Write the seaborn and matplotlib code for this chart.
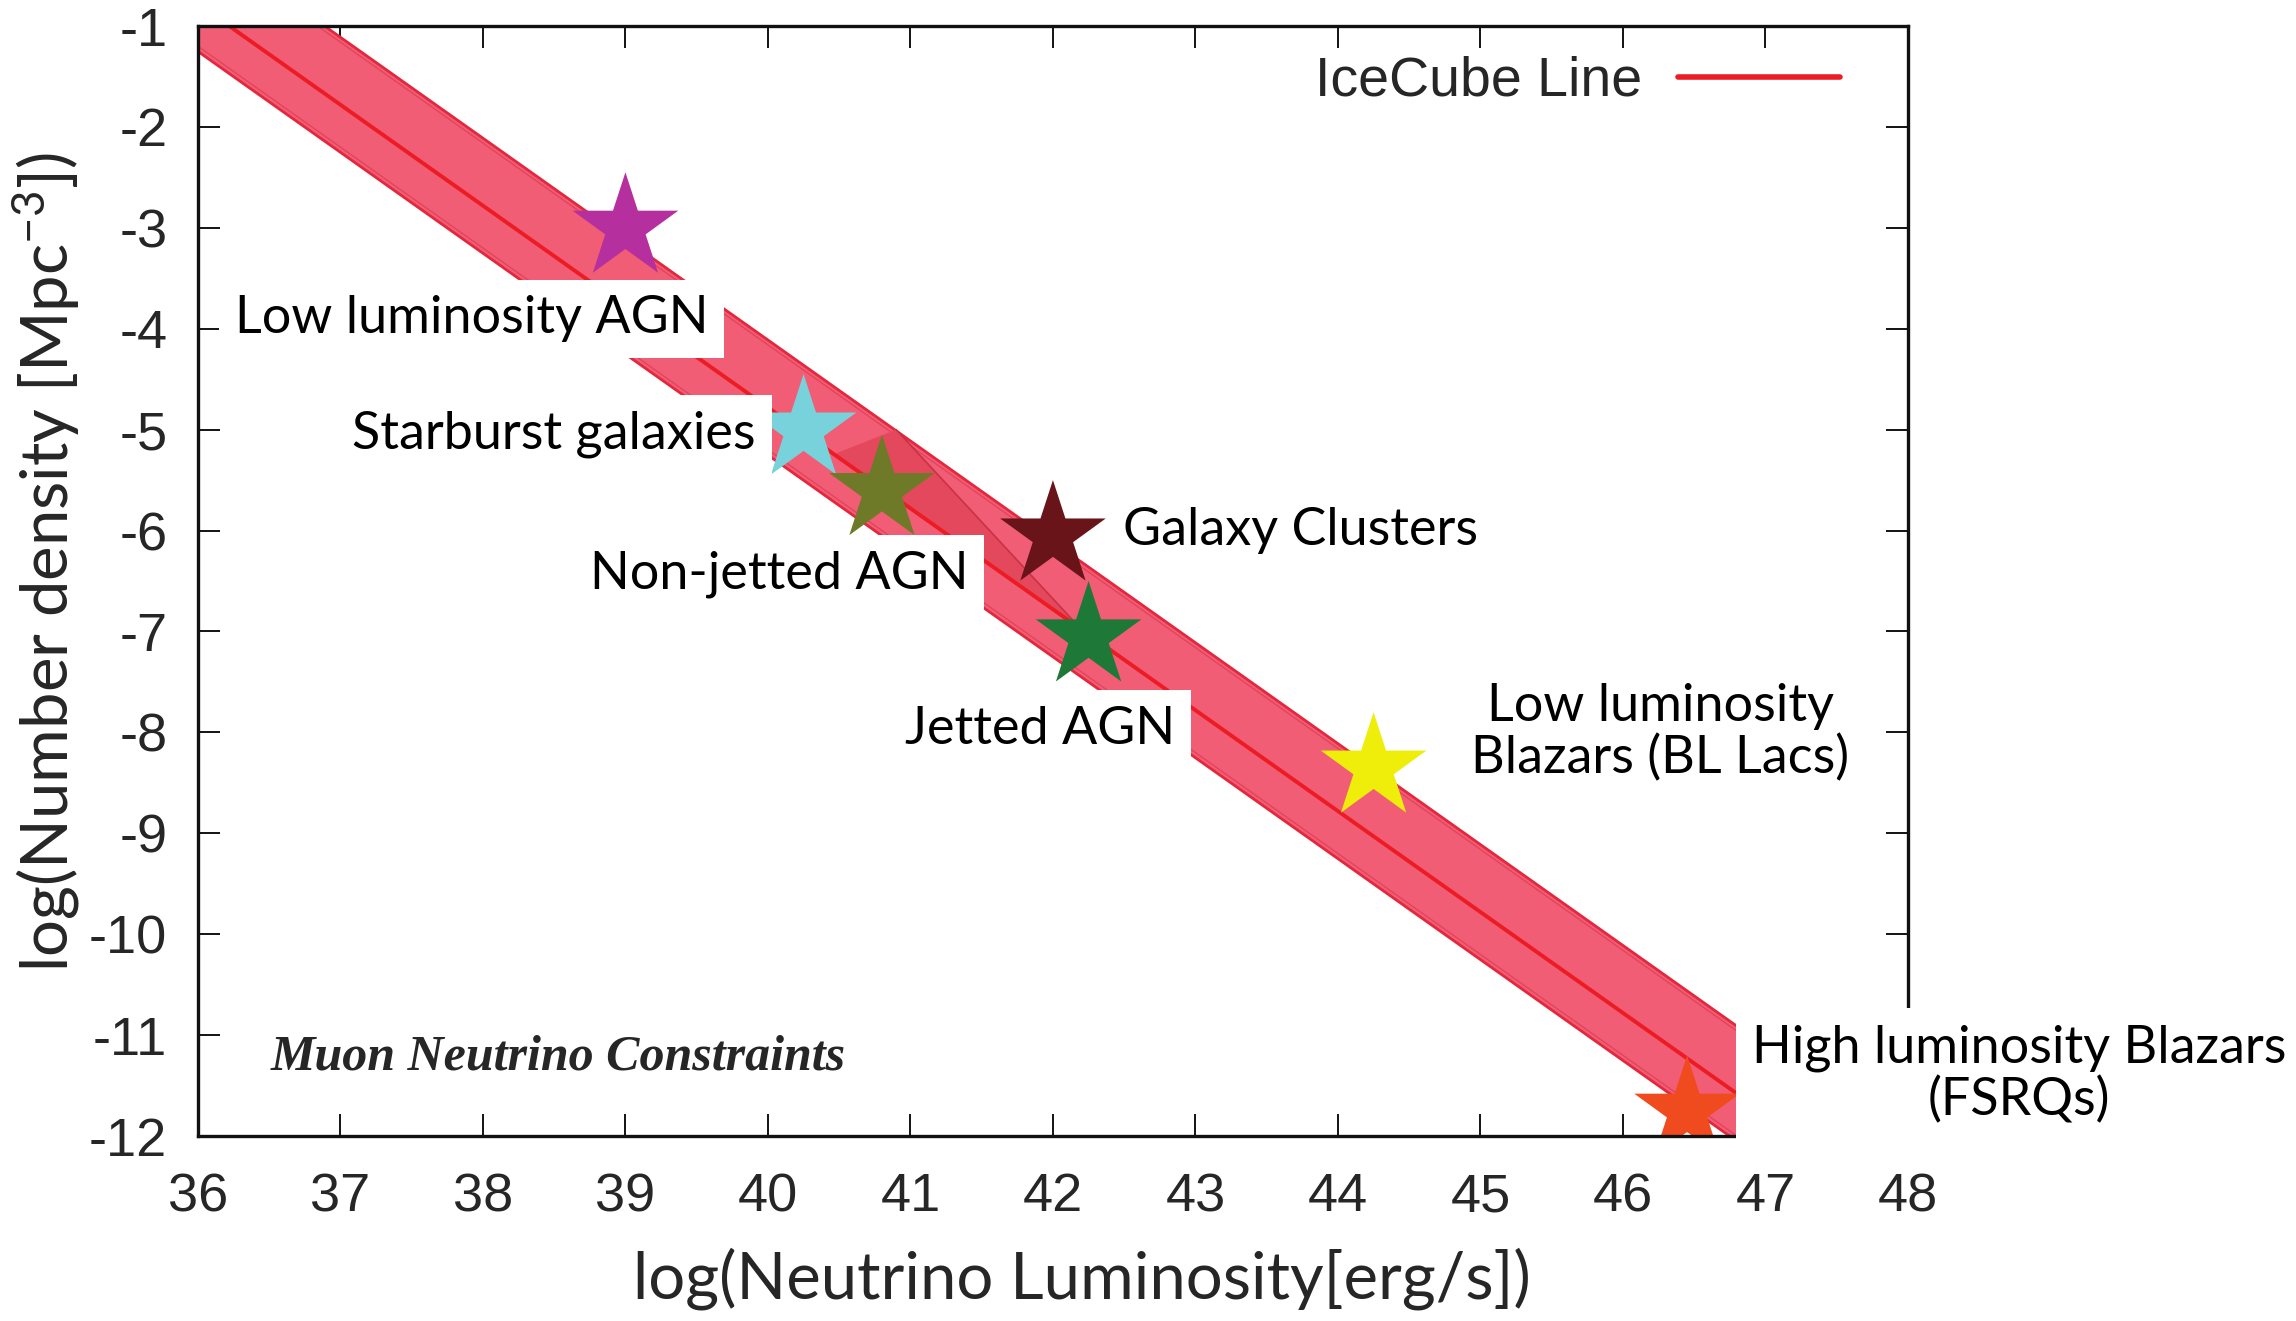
import matplotlib
matplotlib.use("Agg")
import matplotlib.pyplot as plt
import seaborn as sns
import pandas as pd
from matplotlib.lines import Line2D

# ---------------- data ----------------
band_x = [36.0, 46.8]
center_y = [-0.78, -11.58]
upper_y = [-0.11, -10.91]
lower_y = [-1.25, -12.05]

# darker overlap region of a second (steeper) band
overlap_x = [40.45, 40.9, 42.2]
overlap_y = [-5.25, -5.0, -6.98]

sources = ["Low luminosity AGN", "Starburst galaxies", "Non-jetted AGN",
           "Galaxy Clusters", "Jetted AGN", "BL Lacs", "FSRQs"]
lum = [39.0, 40.25, 40.8, 42.0, 42.25, 44.25, 46.45]
dens = [-3.0, -5.0, -5.6, -6.05, -7.05, -8.35, -11.75]
star_colors = ["#B5309E", "#78D2DC", "#6E7A28", "#691419", "#1E7837",
               "#EEEE0A", "#F04B1E"]

labels = ["Low luminosity AGN", "Starburst galaxies", "Non-jetted AGN",
          "Galaxy Clusters", "Jetted AGN", "Low luminosity\nBlazars (BL Lacs)",
          "High luminosity Blazars\n(FSRQs)"]
label_x = [37.92, 38.50, 40.08, 43.74, 41.91, 46.26, 48.78]
label_y = [-3.90, -5.05, -6.43, -6.0, -7.97, -8.0, -11.39]

x_ticks = list(range(36, 49))
y_ticks = list(range(-12, 0))

# ---------------- style ----------------
sns.set_style("ticks")
plt.rcParams["axes.unicode_minus"] = False
plt.rcParams["mathtext.default"] = "regular"
plt.rcParams["font.family"] = ["Liberation Sans", "DejaVu Sans"]

fig = plt.figure(figsize=(22.96, 13.21), dpi=100)
ax = fig.add_axes([0.0862, 0.1400, 0.7448, 0.8403])

band_df = pd.DataFrame({"x": band_x, "c": center_y, "u": upper_y, "l": lower_y})

ax.fill_between(band_df["x"], band_df["l"], band_df["u"], facecolor="#F25D76",
                edgecolor="#E3283E", linewidth=2.0, zorder=1)
# faint inner edges of the overlapping bands
ax.plot(band_df["x"], band_df["u"] - 0.05, color="#D9334A", lw=1.0, alpha=0.6, zorder=1.1)
ax.plot(band_df["x"], band_df["l"] + 0.05, color="#D9334A", lw=1.0, alpha=0.6, zorder=1.1)
ax.fill(overlap_x, overlap_y, facecolor="#E4485D", edgecolor="none", zorder=1.2)
ax.plot(overlap_x[1:], overlap_y[1:], color="#C22B3C", lw=1.2, alpha=0.8, zorder=1.25)

sns.lineplot(data=band_df, x="x", y="c", color="#ED1C24", linewidth=2.8,
             ax=ax, zorder=1.5, legend=False)

star_df = pd.DataFrame({"lum": lum, "dens": dens, "src": sources})
sns.scatterplot(data=star_df, x="lum", y="dens", hue="src",
                palette=dict(zip(sources, star_colors)), marker="*", s=6400,
                edgecolor="none", linewidth=0, legend=False, ax=ax, zorder=2)

label_font = ["Lato", "DejaVu Sans"]
for txt, lx, ly in zip(labels, label_x, label_y):
    ax.text(lx, ly, txt, ha="center", va="center", multialignment="center",
            fontsize=37.5, family=label_font, color="black", zorder=4,
            linespacing=1.1, clip_on=False,
            bbox=dict(boxstyle="square,pad=0.3", facecolor="white",
                      edgecolor="none"))

ax.text(38.53, -11.22, "Muon Neutrino Constraints", ha="center", va="center",
        fontsize=36, family=["Liberation Serif", "DejaVu Serif"],
        fontweight="bold", fontstyle="italic", zorder=4)

ax.set_xlim(36, 48)
ax.set_ylim(-12, -1)
ax.set_xticks(x_ticks)
ax.set_yticks(y_ticks)
ax.set_xticklabels([str(t) for t in x_ticks])
ax.set_yticklabels([str(t) for t in y_ticks])
ax.tick_params(direction="in", length=16, width=1.3, top=True, right=True,
               labelsize=39, color="black")
ax.tick_params(axis="x", pad=26)
ax.tick_params(axis="y", pad=22)
for sp in ax.spines.values():
    sp.set_linewidth(2.4)
    sp.set_visible(True)
    sp.set_color("#111111")

ax.set_xlabel("log(Neutrino Luminosity[erg/s])", fontsize=47, family=label_font)
ax.set_ylabel(r"log(Number density [Mpc$^{-3}$])", fontsize=47, family=label_font)
ax.xaxis.set_label_coords(0.517, -0.10)
ax.yaxis.set_label_coords(-0.068, 0.517)

handle = Line2D([], [], color="#ED1C24", lw=4)
leg = ax.legend([handle], ["IceCube Line"], loc="upper right",
                bbox_to_anchor=(0.960, 0.973), frameon=False, markerfirst=False,
                fontsize=40, handlelength=2.9, handletextpad=0.65,
                borderaxespad=0, borderpad=0)

fig.savefig("out.png", dpi=100, facecolor="white")
